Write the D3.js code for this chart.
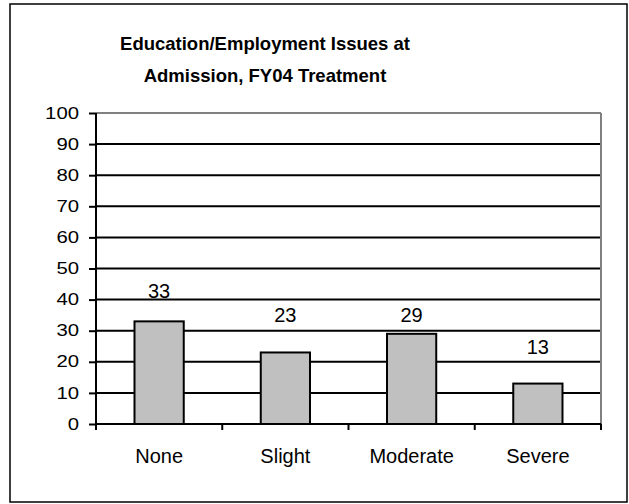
<!DOCTYPE html>
<html>
<head>
<meta charset="utf-8">
<script src="https://cdn.jsdelivr.net/npm/d3@7"></script>
<style>
  html, body { margin: 0; padding: 0; background: #fff; }
  svg { display: block; }
  text { font-family: Arial, "Liberation Sans", sans-serif; fill: #000; }
</style>
</head>
<body>
<svg id="chart" width="629" height="504"></svg>
<script>
// Chart data
const categories = ["None", "Slight", "Moderate", "Severe"];
const values = [33, 23, 29, 13];
const yTicks = [0, 10, 20, 30, 40, 50, 60, 70, 80, 90, 100];
const titleLines = ["Education/Employment Issues at", "Admission, FY04 Treatment"];

// Distance (px) between each bar top and the baseline of its value label
const labelLift = [23, 30, 12, 30];

const svg = d3.select("#chart");
const plot = { left: 96, right: 601, top: 113, bottom: 424 };
const fontFamily = "Arial, 'Liberation Sans', sans-serif";
const labelFont = "20px";
const tickFont = "16px";

// Outer frame
svg.append("rect")
  .attr("x", 10).attr("y", 4)
  .attr("width", 617).attr("height", 498)
  .attr("fill", "#fff").attr("stroke", "#000").attr("stroke-width", 1.5);

// Title
svg.append("text")
  .attr("x", 265).attr("y", 50)
  .attr("text-anchor", "middle")
  .style("font-size", "18.5px").style("font-weight", "bold")
  .selectAll("tspan").data(titleLines).join("tspan")
  .attr("x", 265).attr("dy", (d, i) => i === 0 ? 0 : 32)
  .text(d => d);

const x = d3.scaleBand()
  .domain(categories)
  .range([plot.left, plot.right])
  .paddingInner(0.61)
  .paddingOuter(0.305);

const y = d3.scaleLinear()
  .domain([0, 100])
  .range([plot.bottom, plot.top]);

// Horizontal gridlines
svg.append("g")
  .selectAll("line")
  .data(yTicks.filter(t => t > 0))
  .join("line")
  .attr("x1", plot.left).attr("x2", plot.right)
  .attr("y1", d => y(d)).attr("y2", d => y(d))
  .attr("stroke", d => d === 100 ? "#808080" : "#000")
  .attr("stroke-width", 2);

// Right edge of plot area
svg.append("line")
  .attr("x1", plot.right).attr("x2", plot.right)
  .attr("y1", plot.top).attr("y2", plot.bottom)
  .attr("stroke", "#808080").attr("stroke-width", 2);

// Bars
svg.append("g")
  .selectAll("rect")
  .data(values)
  .join("rect")
  .attr("x", (d, i) => x(categories[i]))
  .attr("y", d => y(d))
  .attr("width", x.bandwidth())
  .attr("height", d => y(0) - y(d))
  .attr("fill", "#c0c0c0")
  .attr("stroke", "#000")
  .attr("stroke-width", 2);

// Value labels
svg.append("g")
  .selectAll("text")
  .data(values)
  .join("text")
  .attr("x", (d, i) => x(categories[i]) + x.bandwidth() / 2)
  .attr("y", (d, i) => y(d) - labelLift[i])
  .attr("text-anchor", "middle")
  .style("font-size", labelFont)
  .text(d => d);

// Y axis
const yAxis = svg.append("g")
  .attr("transform", `translate(${plot.left},0)`)
  .call(d3.axisLeft(y).tickValues(yTicks).tickSize(7).tickPadding(10).tickSizeOuter(0));
yAxis.select(".domain").attr("stroke", "#000").attr("stroke-width", 2)
  .attr("d", `M0,${plot.top}V${plot.bottom + 6}`);
yAxis.selectAll(".tick line").attr("stroke", "#000").attr("stroke-width", 2);
yAxis.selectAll(".tick text")
  .style("font-size", tickFont).style("font-family", fontFamily)
  .attr("fill", "#000")
  .each(function () {
    // widen the tick numerals slightly
    const w = this.getComputedTextLength();
    d3.select(this).attr("textLength", w * 1.27).attr("lengthAdjust", "spacingAndGlyphs");
  });

// X axis with ticks at category boundaries
const xAxis = svg.append("g")
  .attr("transform", `translate(0,${plot.bottom})`)
  .call(d3.axisBottom(x).tickSize(0).tickPadding(25).tickSizeOuter(0));
xAxis.select(".domain").attr("stroke", "#000").attr("stroke-width", 2)
  .attr("d", `M${plot.left},0H${plot.right}`);
xAxis.selectAll(".tick text")
  .style("font-size", labelFont).style("font-family", fontFamily)
  .attr("fill", "#000");
xAxis.selectAll(".boundary")
  .data(categories)
  .join("line")
  .attr("class", "boundary")
  .attr("x1", d => x(d) - x.step() * x.paddingOuter() + x.step())
  .attr("x2", d => x(d) - x.step() * x.paddingOuter() + x.step())
  .attr("y1", 0).attr("y2", 6)
  .attr("stroke", "#000").attr("stroke-width", 2);
</script>
</body>
</html>
